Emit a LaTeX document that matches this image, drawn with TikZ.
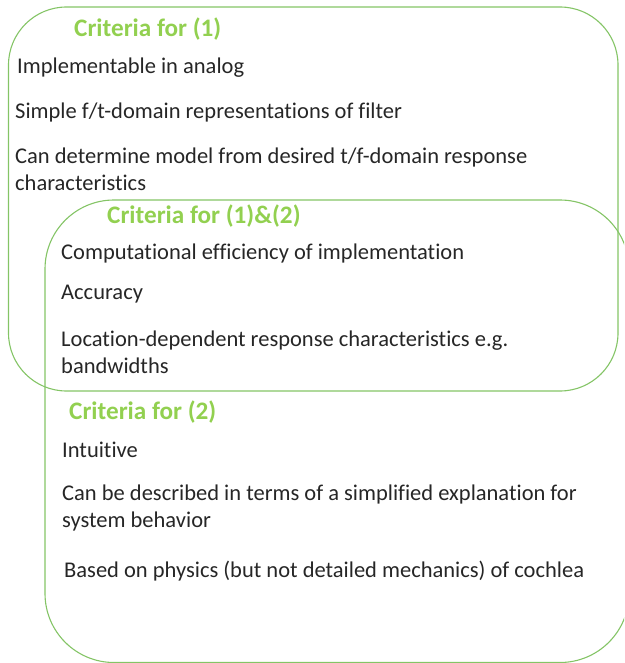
\documentclass[tikz,border=0pt]{standalone}
\usepackage{fontspec}
\setmainfont[Ligatures=NoCommon]{Carlito}
\definecolor{hdgreen}{HTML}{92D050}
\definecolor{lngreen}{HTML}{84C466}
\begin{document}
\begin{tikzpicture}[x=1pt,y=-1pt,
  box/.style={draw=lngreen,line width=1.1pt},
  hd/.style={anchor=west,inner sep=0pt,text=hdgreen,font=\fontsize{25.2}{28}\selectfont\bfseries},
  tx/.style={anchor=west,inner sep=0pt,text=black!85,font=\fontsize{22.5}{27}\selectfont,align=left}]
\useasboundingbox (0,0) rectangle (624,663);
\clip (0,0) rectangle (624,663);
\draw[box,rounded corners=58] (8.5,7) rectangle (618,391);
\draw[box,rounded corners=69] (45,200) rectangle (629,662.5);
\node[hd] (h1) at (74,29) {Criteria for (1)};
\node[tx] (a1) at (17,67.5) {Implementable in analog};
\node[tx] (a2) at (15,112.5) {Simple f/t-domain representations of filter};
\node[tx] (a3) at (15,169) {Can determine model from desired t/f-domain response\\characteristics};
\node[hd] (h12) at (107,216) {Criteria for (1)\&(2)};
\node[tx] (b1) at (61,253.5) {Computational efficiency of implementation};
\node[tx] (b2) at (61,294.5) {Accuracy};
\node[tx] (b3) at (61,352) {Location-dependent response characteristics e.g.\\bandwidths};
\node[hd] (h2) at (69,412) {Criteria for (2)};
\node[tx] (c1) at (62,449.5) {Intuitive};
\node[tx] (c2) at (62,507.5) {Can be described in terms of a simplified explanation for\\system behavior};
\node[tx] (c3) at (64,571.5) {Based on physics (but not detailed mechanics) of cochlea};
\end{tikzpicture}
\end{document}
